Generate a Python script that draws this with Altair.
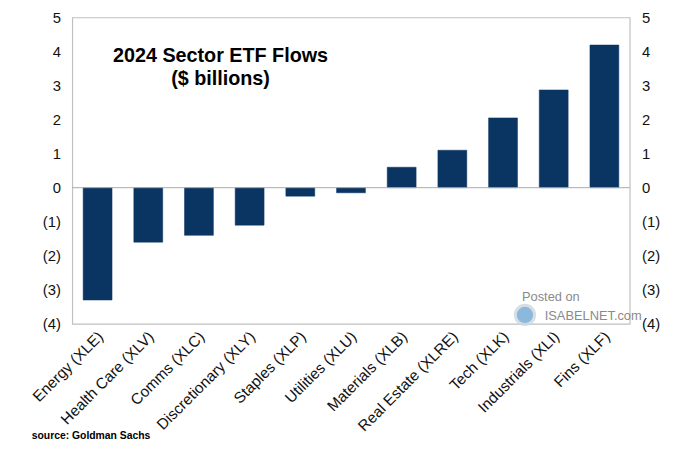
import altair as alt
import pandas as pd

sectors = ["Energy (XLE)", "Health Care (XLV)", "Comms (XLC)", "Discretionary (XLY)",
           "Staples (XLP)", "Utilities (XLU)", "Materials (XLB)", "Real Estate (XLRE)",
           "Tech (XLK)", "Industrials (XLI)", "Fins (XLF)"]
flows = [-3.3, -1.6, -1.4, -1.1, -0.25, -0.15, 0.6, 1.1, 2.05, 2.87, 4.19]
y_ticks = [-4, -3, -2, -1, 0, 1, 2, 3, 4, 5]

df = pd.DataFrame({"sector": sectors, "flow": flows})

W, H = 564, 310
label_expr = "datum.value < 0 ? '(' + abs(datum.value) + ')' : '' + datum.value"
yscale = alt.Scale(domain=[-4, 5], nice=False, zero=False)

xenc = alt.X("sector:N", sort=None, title=None,
             scale=alt.Scale(paddingInner=0.43, paddingOuter=0.215),
             axis=alt.Axis(labelAngle=-45, labelAlign="right", labelBaseline="middle",
                           labelPadding=10, labelOffset=3, ticks=False, domain=False,
                           labelFont="Liberation Sans", labelFontSize=15.5,
                           labelColor="#111", labelLimit=300))

def yaxis(orient):
    return alt.Axis(orient=orient, values=y_ticks, labelExpr=label_expr, ticks=False,
                    domain=False, grid=False, labelPadding=12,
                    labelFont="Liberation Sans", labelFontSize=15, labelColor="#111")

bars = alt.Chart(df).mark_bar(color="#0a3461", stroke="#0a3461", strokeWidth=0.5).encode(
    x=xenc,
    y=alt.Y("flow:Q", scale=yscale, title=None, axis=yaxis("left")),
)

right = alt.Chart(df).mark_bar(opacity=0).encode(
    x=xenc,
    y=alt.Y("flow:Q", scale=yscale, title=None, axis=yaxis("right")),
)

zero = alt.Chart(pd.DataFrame({"z": [0]})).mark_rule(color="#aaaaaa", strokeWidth=1).encode(
    y=alt.Y("z:Q", scale=yscale, axis=None)
)

title_lines = pd.DataFrame({"t": ["2024 Sector ETF Flows", "($ billions)"], "yy": [39, 62]})
title = alt.Chart(title_lines).mark_text(
    font="Liberation Sans", fontSize=20, fontWeight="bold", color="#000", align="center"
).encode(text="t:N", x=alt.value(150), y=alt.Y("yy:Q", scale=None, axis=None))

wm = pd.DataFrame({"t": ["Posted on", "ISABELNET.com"], "xx": [455, 478], "yy": [283, 302]})
watermark = alt.Chart(wm).mark_text(
    font="Liberation Sans", fontSize=13, color="#8a8a8a", align="left"
).encode(text="t:N", x=alt.X("xx:Q", scale=None, axis=None), y=alt.Y("yy:Q", scale=None, axis=None))

logo = alt.Chart(pd.DataFrame({"a": [1]})).mark_point(
    shape="circle", size=380, filled=True, color="#6fa8d6", opacity=0.8,
    stroke="#cfd8de", strokeWidth=3
).encode(x=alt.value(458), y=alt.value(301))

source = alt.Chart(pd.DataFrame({"t": ["source: Goldman Sachs"]})).mark_text(
    font="Liberation Sans", fontSize=10.5, fontWeight="bold", color="#000", align="left"
).encode(text="t:N", x=alt.value(-41), y=alt.value(423))

chart = alt.layer(bars, right, zero, title, watermark, logo, source).resolve_scale(
    y="independent"
).properties(
    width=W, height=H,
    autosize=alt.AutoSizeParams(type="none"),
    padding={"left": 65, "top": 7, "right": 63, "bottom": 120},
    background="white",
).configure_view(stroke="#c0c0c0", strokeWidth=1.2)

chart.save("out.html", embed_options={"renderer": "svg", "actions": False})
